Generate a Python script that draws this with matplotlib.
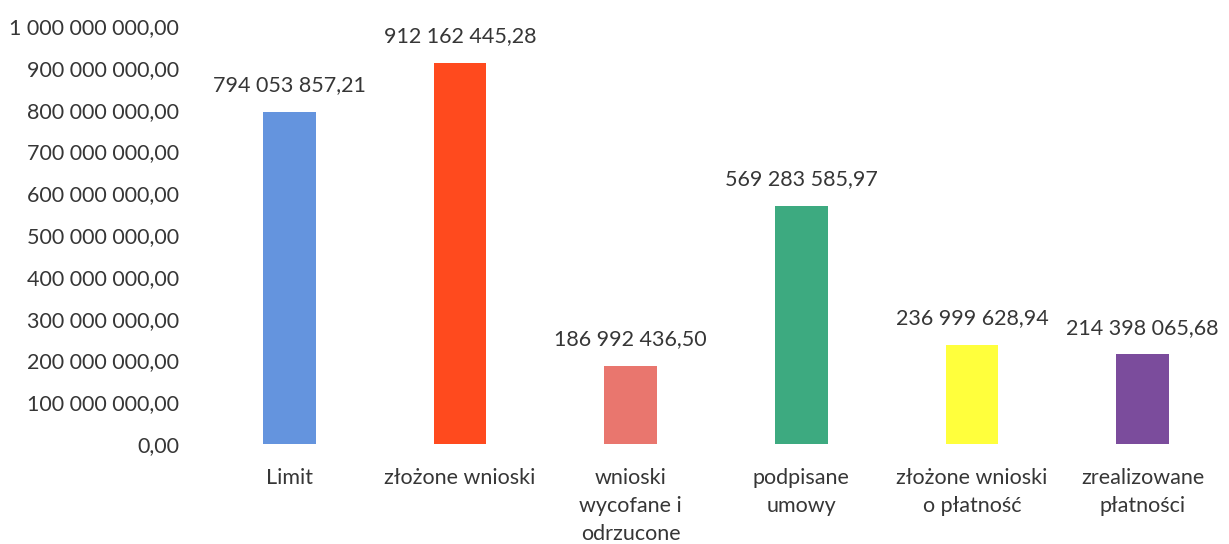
import matplotlib
matplotlib.use("Agg")
import matplotlib.pyplot as plt
from matplotlib.ticker import FuncFormatter

categories = ["Limit", "złożone wnioski", "wnioski\nwycofane i\nodrzucone",
              "podpisane\numowy", "złożone wnioski\no płatność", "zrealizowane\npłatności"]
values = [794053857.21, 912162445.28, 186992436.50, 569283585.97,
          236999628.94, 214398065.68]
colors = ["#6494DE", "#FF4A1E", "#E9766E", "#3DAA80", "#FFFF3C", "#7B4C9C"]
yticks = [i * 100_000_000 for i in range(11)]

plt.rcParams['font.family'] = ['Lato', 'DejaVu Sans']
txt = "#363636"

def fmt(v):
    s = f"{v:,.2f}"
    return s.replace(",", " ").replace(".", ",")

fig = plt.figure(figsize=(12.29, 5.44), dpi=100)
ax = fig.add_axes([204/1229, 100/544, (1228-204)/1229, (444-26)/544])
x = list(range(len(values)))
ax.bar(x, values, width=0.31, color=colors)
ax.set_xlim(-0.5, 5.5)
ax.set_ylim(0, 1_000_000_000)
ax.set_yticks(yticks)
ax.yaxis.set_major_formatter(FuncFormatter(lambda v, p: fmt(v)))
ax.set_xticks(x)
ax.set_xticklabels(categories, linespacing=1.5)
ax.tick_params(axis='both', length=0, colors=txt, labelsize=15.5)
ax.tick_params(axis='y', pad=18)
ax.tick_params(axis='x', pad=17)
for s in ax.spines.values():
    s.set_visible(False)
for xi, v in zip(x, values):
    ax.annotate(fmt(v), (xi, v), xytext=(0, 12), textcoords="offset points",
                ha="center", va="bottom", fontsize=15.5, color=txt)
fig.savefig("out.png", dpi=100)
